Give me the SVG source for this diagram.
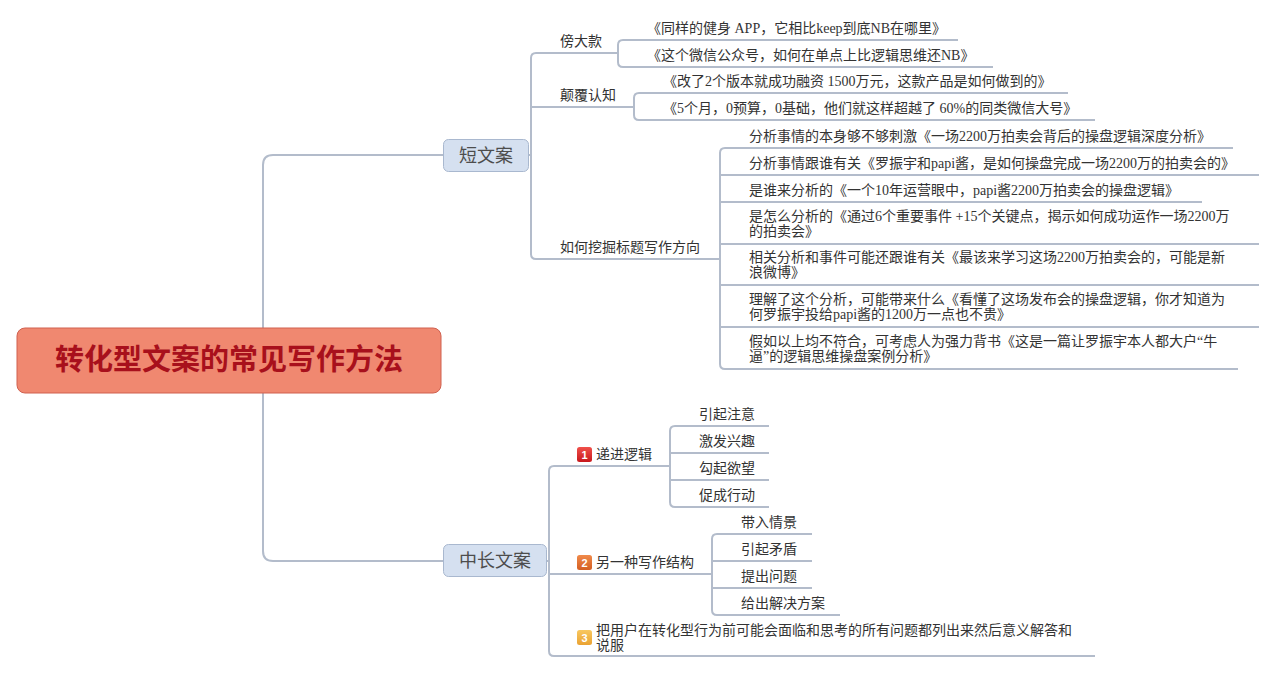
<svg xmlns="http://www.w3.org/2000/svg" width="1278" height="673" viewBox="0 0 1278 673">
<defs>
<style>
.ln{fill:none;stroke:#b3bccb;stroke-width:2}
.t{font-family:"Liberation Serif","Noto Sans CJK SC",sans-serif;font-size:14px;fill:#333}
.tb{font-family:"Noto Sans CJK SC",sans-serif;font-size:18px;fill:#4d4d4d;text-anchor:middle}
.box{fill:#d5e0f0;stroke:#a9b8cf;stroke-width:1}
.ic{font-family:"Liberation Sans",sans-serif;font-size:11px;font-weight:bold;fill:#fff;text-anchor:middle}
</style>
<linearGradient id="g1" x1="0" y1="0" x2="0" y2="1"><stop offset="0" stop-color="#f0504a"/><stop offset="1" stop-color="#c8181c"/></linearGradient>
<linearGradient id="g2" x1="0" y1="0" x2="0" y2="1"><stop offset="0" stop-color="#f08a4a"/><stop offset="1" stop-color="#d45e22"/></linearGradient>
<linearGradient id="g3" x1="0" y1="0" x2="0" y2="1"><stop offset="0" stop-color="#f8c860"/><stop offset="1" stop-color="#eaa232"/></linearGradient>
</defs>
<rect width="1278" height="673" fill="#fff"/>
<g id="connectors">
<path class="ln" d="M443,155 H273 Q263,155 263,165 V551 Q263,561 273,561 H443"/>
<path class="ln" d="M528,155 H531"/>
<path class="ln" d="M618,53 H536 Q531,53 531,58 V254 Q531,259 536,259 H720"/>
<path class="ln" d="M531,107 H634"/>
<path class="ln" d="M618,53 V45 Q618,40 623,40 H958"/>
<path class="ln" d="M618,53 V62 Q618,67 623,67 H993"/>
<path class="ln" d="M634,107 V98 Q634,93 639,93 H1068"/>
<path class="ln" d="M634,107 V115 Q634,120 639,120 H1095"/>
<path class="ln" d="M720,259 V153 Q720,148 725,148 H1233"/>
<path class="ln" d="M720,259 V364 Q720,369 725,369 H1238"/>
<path class="ln" d="M720,175 H1259 M720,202 H1202 M720,244 H1259 M720,285 H1259 M720,327 H1259"/>
<path class="ln" d="M546,561 H549"/>
<path class="ln" d="M670,466 H554 Q549,466 549,471 V651 Q549,656 554,656 H1095"/>
<path class="ln" d="M549,574 H712"/>
<path class="ln" d="M670,466 V431 Q670,426 675,426 H769"/>
<path class="ln" d="M670,466 V502 Q670,507 675,507 H769"/>
<path class="ln" d="M670,453 H769 M670,480 H769"/>
<path class="ln" d="M712,574 V539 Q712,534 717,534 H812"/>
<path class="ln" d="M712,574 V610 Q712,615 717,615 H840"/>
<path class="ln" d="M712,561 H812 M712,588 H812"/>
</g>
<g id="root">
<rect x="17" y="328" width="424" height="65" rx="8" fill="#f08870" stroke="#d0604f" stroke-width="1"/>
<text x="229" y="370" font-family="Noto Sans CJK SC,sans-serif" font-size="29" font-weight="bold" fill="#a8101c" text-anchor="middle">转化型文案的常见写作方法</text>
</g>
<g id="n-duan">
<rect class="box" x="443.5" y="139.5" width="85" height="32" rx="5"/>
<text class="tb" x="486" y="162">短文案</text>
</g>
<g id="n-zhongchang">
<rect class="box" x="443.5" y="544.5" width="103" height="32" rx="5"/>
<text class="tb" x="495" y="567">中长文案</text>
</g>
<g id="n-bang"><text class="t" x="560" y="46">傍大款</text></g>
<g id="n-bang-1"><text class="t" x="647" y="33">《同样的健身 APP，它相比keep到底NB在哪里》</text></g>
<g id="n-bang-2"><text class="t" x="647" y="60">《这个微信公众号，如何在单点上比逻辑思维还NB》</text></g>
<g id="n-dianfu"><text class="t" x="560" y="100">颠覆认知</text></g>
<g id="n-dianfu-1"><text class="t" x="663" y="86">《改了2个版本就成功融资 1500万元，这款产品是如何做到的》</text></g>
<g id="n-dianfu-2"><text class="t" x="663" y="113">《5个月，0预算，0基础，他们就这样超越了 60%的同类微信大号》</text></g>
<g id="n-wajue"><text class="t" x="560" y="252">如何挖掘标题写作方向</text></g>
<g id="n-w1"><text class="t" x="749" y="141">分析事情的本身够不够刺激《一场2200万拍卖会背后的操盘逻辑深度分析》</text></g>
<g id="n-w2"><text class="t" x="749" y="168">分析事情跟谁有关《罗振宇和papi酱，是如何操盘完成一场2200万的拍卖会的》</text></g>
<g id="n-w3"><text class="t" x="749" y="195">是谁来分析的《一个10年运营眼中，papi酱2200万拍卖会的操盘逻辑》</text></g>
<g id="n-w4"><text class="t" x="749" y="221">是怎么分析的《通过6个重要事件 +15个关键点，揭示如何成功运作一场2200万</text><text class="t" x="749" y="236">的拍卖会》</text></g>
<g id="n-w5"><text class="t" x="749" y="262">相关分析和事件可能还跟谁有关《最该来学习这场2200万拍卖会的，可能是新</text><text class="t" x="749" y="277">浪微博》</text></g>
<g id="n-w6"><text class="t" x="749" y="304">理解了这个分析，可能带来什么《看懂了这场发布会的操盘逻辑，你才知道为</text><text class="t" x="749" y="319">何罗振宇投给papi酱的1200万一点也不贵》</text></g>
<g id="n-w7"><text class="t" x="749" y="346">假如以上均不符合，可考虑人为强力背书《这是一篇让罗振宇本人都大户“牛</text><text class="t" x="749" y="361">逼”的逻辑思维操盘案例分析》</text></g>
<g id="n-dijin">
<rect x="577" y="447" width="15" height="15" rx="2.5" fill="url(#g1)"/>
<text class="ic" x="584.5" y="458.5">1</text>
<text class="t" x="596" y="459">递进逻辑</text>
</g>
<g id="n-d1"><text class="t" x="699" y="419">引起注意</text></g>
<g id="n-d2"><text class="t" x="699" y="446">激发兴趣</text></g>
<g id="n-d3"><text class="t" x="699" y="473">勾起欲望</text></g>
<g id="n-d4"><text class="t" x="699" y="500">促成行动</text></g>
<g id="n-lingyi">
<rect x="577" y="555" width="15" height="15" rx="2.5" fill="url(#g2)"/>
<text class="ic" x="584.5" y="566.5">2</text>
<text class="t" x="596" y="567">另一种写作结构</text>
</g>
<g id="n-l1"><text class="t" x="741" y="527">带入情景</text></g>
<g id="n-l2"><text class="t" x="741" y="554">引起矛盾</text></g>
<g id="n-l3"><text class="t" x="741" y="581">提出问题</text></g>
<g id="n-l4"><text class="t" x="741" y="608">给出解决方案</text></g>
<g id="n-bayonghu">
<rect x="577" y="630" width="15" height="15" rx="2.5" fill="url(#g3)"/>
<text class="ic" x="584.5" y="641.5">3</text>
<text class="t" x="596" y="635">把用户在转化型行为前可能会面临和思考的所有问题都列出来然后意义解答和</text>
<text class="t" x="596" y="650">说服</text>
</g>
</svg>
